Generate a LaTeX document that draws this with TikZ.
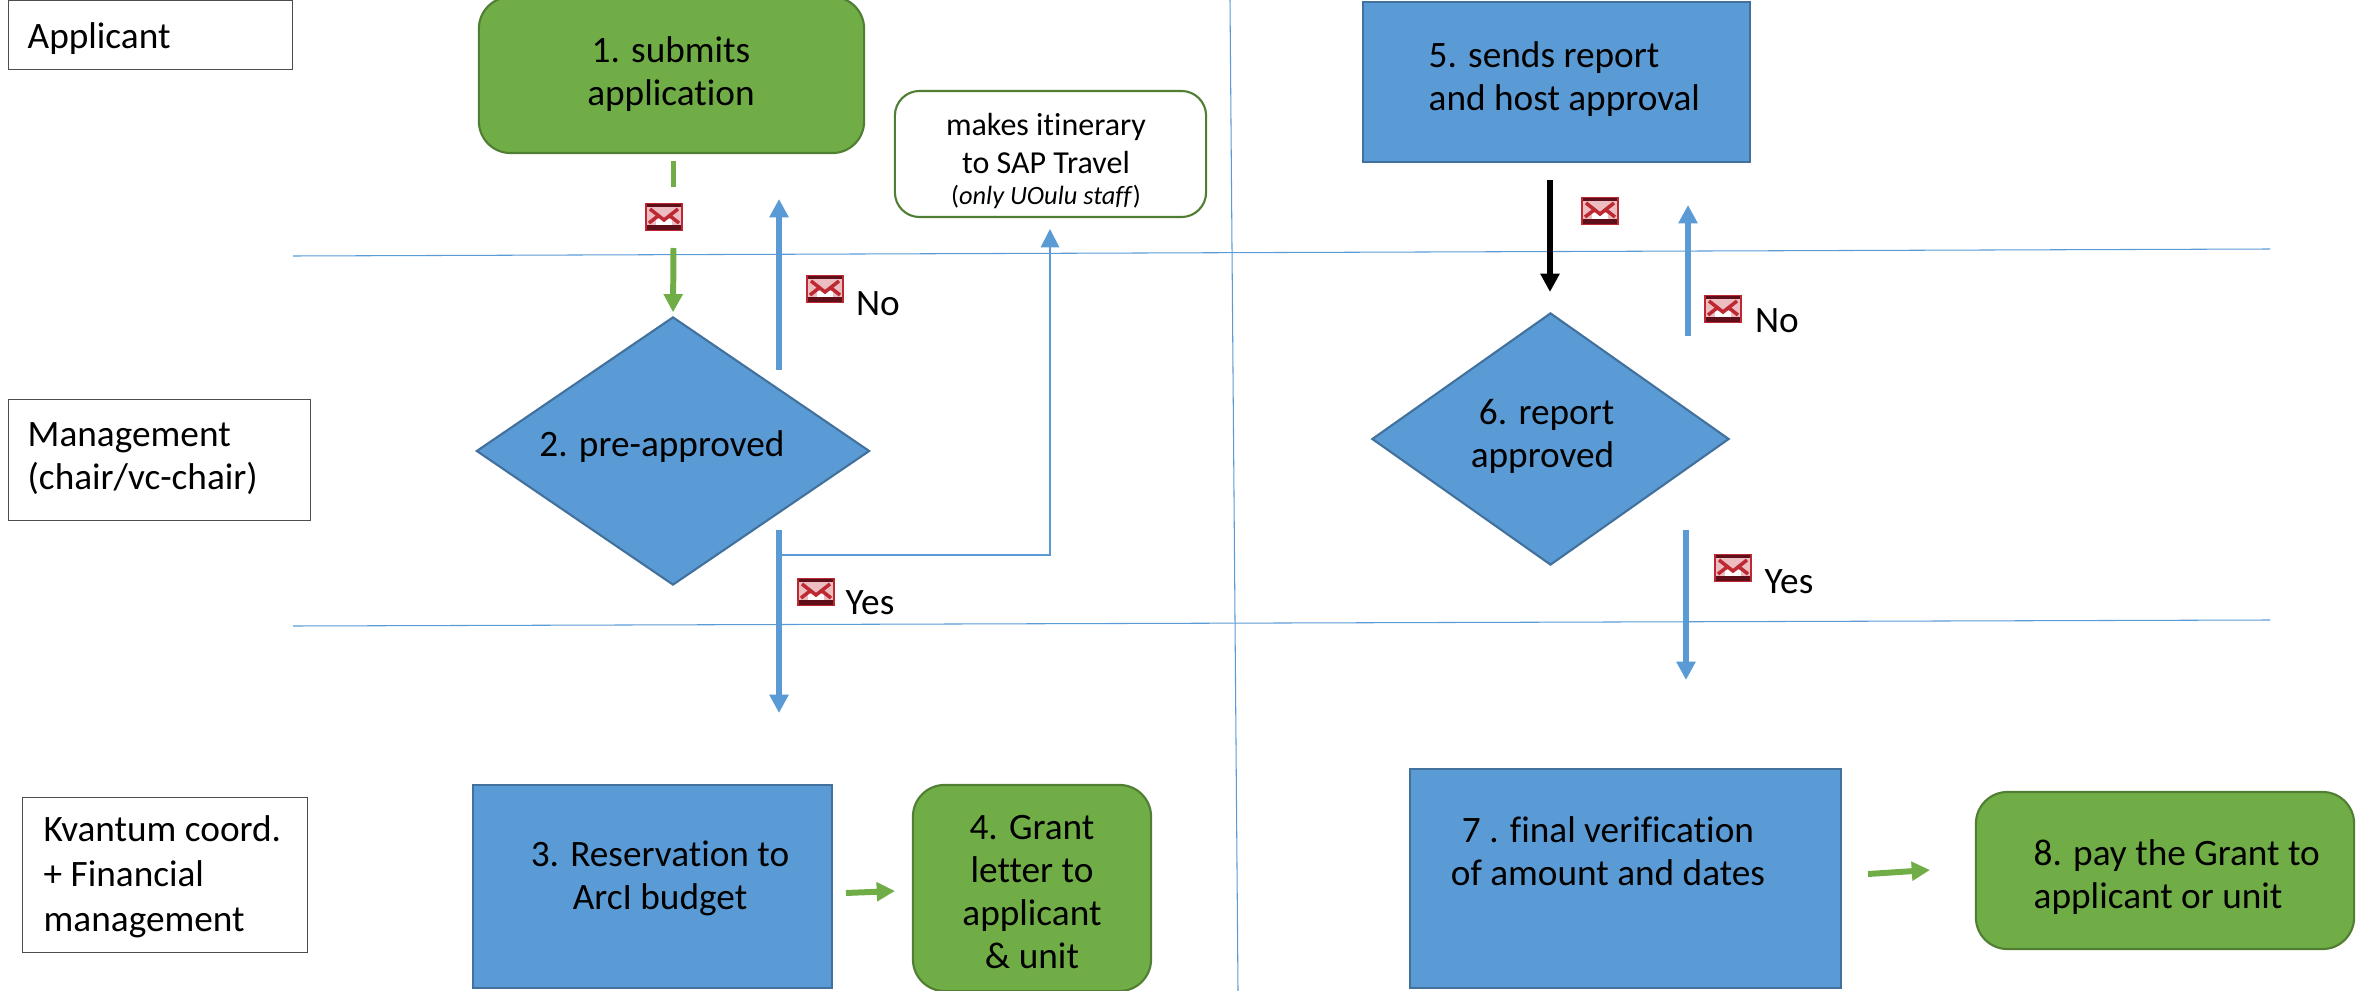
\documentclass[tikz,border=0pt]{standalone}
\usepackage{fontspec}
\setmainfont[Ligatures=NoCommon]{Carlito}
\usetikzlibrary{shapes.geometric,arrows.meta}
\definecolor{boxblue}{RGB}{91,155,213}
\definecolor{boxgreen}{RGB}{112,173,71}
\definecolor{edgeblue}{RGB}{65,113,156}
\definecolor{edgegreen}{RGB}{80,126,50}
\definecolor{mailred}{RGB}{190,40,50}
\definecolor{maildark}{RGB}{95,15,25}
\tikzset{
  >={Triangle[length=5.2pt,width=5.2pt]},
  lanebox/.style={draw=black!70,line width=.35pt,fill=white,inner sep=0pt,anchor=north west},
  lanetext/.style={align=left,anchor=west,inner sep=0pt,font=\fontsize{10.6}{12.2}\selectfont},
  bluebox/.style={draw=edgeblue,line width=.6pt,fill=boxblue,inner sep=0pt},
  greenbox/.style={draw=edgegreen,line width=.6pt,fill=boxgreen,rounded corners=9pt,inner sep=0pt},
  bluediamond/.style={diamond,draw=edgeblue,line width=.6pt,fill=boxblue,inner sep=0pt},
  stepline/.style={align=center,inner sep=0pt,font=\fontsize{10.6}{12.2}\selectfont},
  swimline/.style={draw=boxblue,line width=.3pt},
  bluearrow/.style={->,draw=boxblue,fill=boxblue,line width=1.7pt},
  greenarrow/.style={->,draw=boxgreen,line width=1.7pt},
  mailicon/.pic={
    \fill[mailred!30] (-18,-13) rectangle (18,13);
    \draw[mailred,line width=.5pt] (-18,-13) rectangle (18,13);
    \fill[maildark] (-17,-13) rectangle (17,-10);
    \fill[maildark] (-17,8) rectangle (17,13);
    \fill[white] (-8,2) rectangle (8,8);
    \draw[mailred,line width=1pt] (-14,-8) -- (0,3) -- (14,-8);
    \draw[mailred,line width=1pt] (-15,6) -- (-6,-1) (15,6) -- (6,-1);
  }
}
\begin{document}
\begin{tikzpicture}[x=.01cm,y=-.01cm]
  \useasboundingbox (0,0) rectangle (2369,991);
  % lanes
  \draw[swimline] (293,256) -- (2270,249);
  \draw[swimline] (293,626) -- (2270,620);
  \draw[swimline] (1230,0) -- (1238,991);
  \node[lanebox,minimum width=2.84cm,minimum height=.69cm] (applicant) at (8,0) {};
  \node[lanebox,minimum width=3.02cm,minimum height=1.21cm] (management) at (8,399) {};
  \node[lanebox,minimum width=2.85cm,minimum height=1.55cm] (kvantum) at (22,797) {};
  \node[lanetext] at (27,39) {Applicant};
  \node[lanetext] at (27,459) {Management\\(chair/vc-chair)};
  \node[lanetext,font=\fontsize{10.6}{12.8}\selectfont] at (43,877) {Kvantum coord.\\+ Financial\\management};
  % steps
  \node[greenbox,minimum width=3.85cm,minimum height=1.56cm] (submits) at (671.5,75) {};
  \node[stepline] at (671,74) {1. submits\\application};
  \node[bluediamond,minimum width=3.93cm,minimum height=2.68cm] (preapproved) at (673,451) {};
  \node[stepline] at (662,447) {2. pre-approved};
  \node[bluebox,minimum width=3.59cm,minimum height=2.03cm] (reservation) at (652.5,886.5) {};
  \node[stepline] at (660,878) {3. Reservation to\\ArcI budget};
  \node[greenbox,minimum width=2.38cm,minimum height=2.06cm] (grant) at (1032,888) {};
  \node[stepline] at (1032,892) {4. Grant\\letter to\\applicant\\\& unit};
  \node[draw=edgegreen,line width=.6pt,fill=white,rounded corners=7pt,inner sep=0pt,minimum width=3.11cm,minimum height=1.26cm] (itinerary) at (1050.5,154) {};
  \node[stepline,font=\fontsize{9.1}{10.8}\selectfont] at (1046,161) {makes itinerary\\to SAP Travel\\[-2pt]{\fontsize{7.5}{9}\selectfont(\textit{only UOulu staff})}};
  \node[bluebox,minimum width=3.87cm,minimum height=1.60cm] (sends) at (1556.5,82) {};
  \node[stepline,align=left,anchor=west] at (1428,79) {5. sends report\\and host approval};
  \node[bluediamond,minimum width=3.57cm,minimum height=2.52cm] (report) at (1550.5,439) {};
  \node[stepline,align=right,anchor=east] at (1615,436) {6. report\\approved};
  \node[bluebox,minimum width=4.31cm,minimum height=2.19cm] (verification) at (1625.5,878.5) {};
  \node[stepline] at (1608,851) {7 . final verification\\of amount and dates};
  \node[greenbox,minimum width=3.78cm,minimum height=1.57cm] (pay) at (2165,870.5) {};
  \node[stepline,align=left,anchor=west] at (2033,877) {8. pay the Grant to\\applicant or unit};
  % free ends
  \coordinate (dashstart) at (673.5,161);
  \coordinate (dashend) at (673.5,187);
  \coordinate (greenstart) at (673.5,248);
  \coordinate (notop) at (779,199);
  \coordinate (nobottom) at (779,370);
  \coordinate (yestop) at (779,530);
  \coordinate (yesbottom) at (779,713);
  \coordinate (branch) at (782,555);
  \coordinate (travel) at (1050,229);
  \coordinate (grantstart) at (846,893);
  \coordinate (grantend) at (895,891);
  \coordinate (blackstart) at (1550,180);
  \coordinate (blackend) at (1550,292);
  \coordinate (notwotop) at (1688,205);
  \coordinate (notwobottom) at (1688,336);
  \coordinate (yestwotop) at (1686,530);
  \coordinate (yestwobottom) at (1686,680);
  \coordinate (paystart) at (1868,874);
  \coordinate (payend) at (1930,870);
  % arrows
  \draw[boxgreen,line width=1.7pt] (dashstart) -- (dashend);
  \draw[greenarrow,shorten >=1pt] (greenstart) -- (preapproved.north);
  \draw[bluearrow] (nobottom) -- (notop);
  \draw[bluearrow] (yestop) -- (yesbottom);
  \draw[->,draw=boxblue,line width=.55pt] (branch) -| (travel);
  \draw[greenarrow] (grantstart) -- (grantend);
  \draw[->,line width=1.7pt] (blackstart) -- (blackend);
  \draw[bluearrow] (notwobottom) -- (notwotop);
  \draw[bluearrow] (yestwotop) -- (yestwobottom);
  \draw[greenarrow] (paystart) -- (payend);
  % mail and answers
  \foreach \mx/\my in {664/217,825/289,1600/211,1723/309,816/592,1733/568}
    \pic at (\mx,\my) {mailicon};
  \node[stepline] (no) at (878,304) {No};
  \node[stepline] (notwo) at (1777,321) {No};
  \node[stepline] (yes) at (870,603) {Yes};
  \node[stepline] (yestwo) at (1789,582) {Yes};
\end{tikzpicture}
\end{document}
